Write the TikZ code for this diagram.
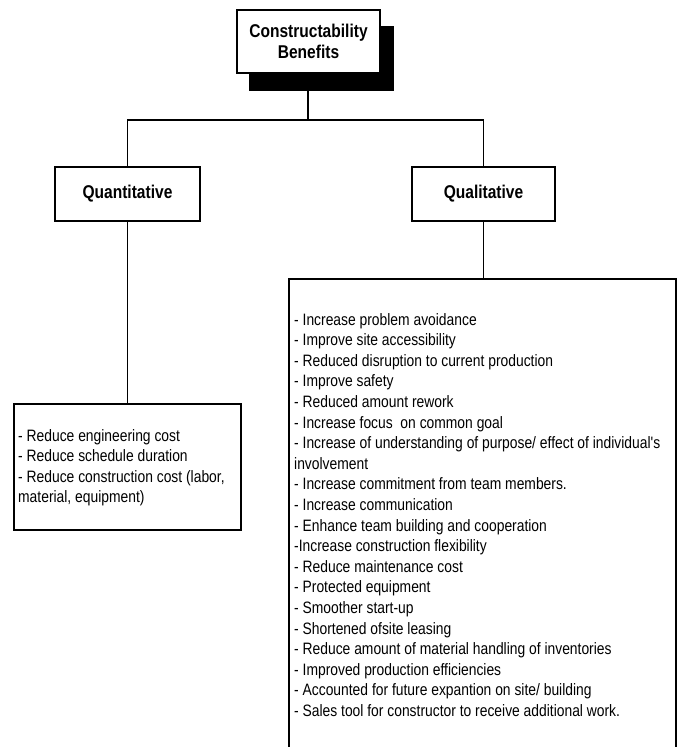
\documentclass[tikz,border=0pt]{standalone}
\usepackage{fontspec}
\newfontfamily\nar{Liberation Sans}[FakeStretch=0.84]
\usetikzlibrary{backgrounds}
\begin{document}
\begin{tikzpicture}[x=1pt,y=-1pt,
  box/.style={draw=black,line width=2pt,fill=white,inner sep=0pt,
    font=\nar\bfseries\fontsize{18.5}{21}\selectfont},
  conn/.style={draw=black,line width=1.8pt},
  listtext/.style={inner sep=0pt,align=left,
    font=\nar\fontsize{16.5}{20.6}\selectfont}]
\useasboundingbox (0,0) rectangle (680,747);
\begin{scope}[on background layer]
\fill[white] (0,0) rectangle (680,747);
\end{scope}
% top node with shadow
\node[box,minimum width=143pt,minimum height=63pt,align=center] (top) at (308.5,41.5) {Constructability\\Benefits};
\coordinate (j) at (308,120);
\begin{scope}[on background layer]
\draw[conn] (top.south -| j) -- (j);
\fill[black] ([shift={(12.5,16.5)}]top.south west) rectangle ([shift={(12.5,16.5)}]top.north east);
\end{scope}
% second level
\node[box,minimum width=145pt,minimum height=54pt] (quant) at (127.5,194) {Quantitative};
\node[box,minimum width=143pt,minimum height=54pt] (qual) at (483.5,194) {Qualitative};
\draw[conn] (quant.north) -- (quant.north |- j) -- (qual.north |- j) -- (qual.north);
% detail boxes
\node[draw=black,line width=2pt,minimum width=227pt,minimum height=126pt,inner sep=0pt] (qnd) at (127.5,467) {};
\node[minimum width=387pt,minimum height=468pt,inner sep=0pt] (qld) at (482.5,513) {};
\draw[black,line width=2pt] (qld.south west) -- (qld.north west) -- (qld.north east) -- (qld.south east);
\draw[conn] (quant.south) -- (quant.south |- qnd.north);
\draw[conn] (qual.south) -- (qual.south |- qld.north);
% texts
\node[listtext,anchor=north west] (qntext) at (18,429) {- Reduce engineering cost\\- Reduce schedule duration\\- Reduce construction cost (labor,\\material, equipment)};
\node[listtext,anchor=north west] (qltext) at (294,313) {- Increase problem avoidance\\
- Improve site accessibility\\
- Reduced disruption to current production\\
- Improve safety\\
- Reduced amount rework\\
- Increase focus\ \ on common goal\\
- Increase of understanding of purpose/ effect of individual's\\
involvement\\
- Increase commitment from team members.\\
- Increase communication\\
- Enhance team building and cooperation\\
-Increase construction flexibility\\
- Reduce maintenance cost\\
- Protected equipment\\
- Smoother start-up\\
- Shortened ofsite leasing\\
- Reduce amount of material handling of inventories\\
- Improved production efficiencies\\
- Accounted for future expantion on site/ building\\
- Sales tool for constructor to receive additional work.};
\end{tikzpicture}
\end{document}
